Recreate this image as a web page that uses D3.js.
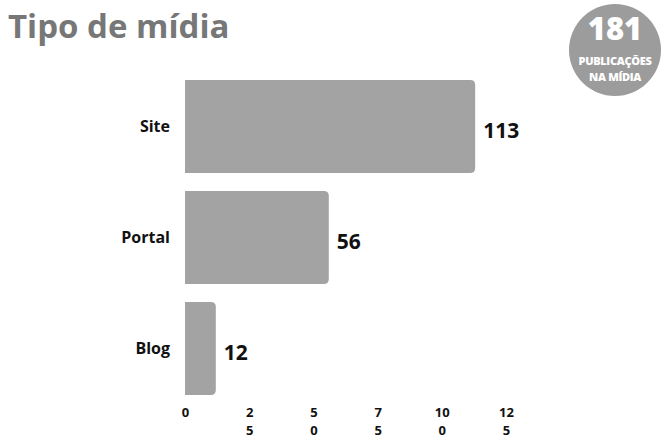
<!DOCTYPE html>
<html>
<head>
<meta charset="utf-8">
<script src="https://cdn.jsdelivr.net/npm/d3@7"></script>
<style>
  html, body { margin: 0; padding: 0; background: #fff; }
  svg { display: block; font-family: "Open Sans", "DejaVu Sans", sans-serif; }
</style>
</head>
<body>
<svg id="chart" width="662" height="441"></svg>
<script>
// Publications by media type
const categories = ["Site", "Portal", "Blog"];
const counts = [113, 56, 12];
const tickValues = [0, 25, 50, 75, 100, 125];
const totalCount = 181;
const badgeLines = ["PUBLICAÇÕES", "NA MÍDIA"];
const titleText = "Tipo de mídia";

const svg = d3.select("#chart");

const barColor = "#a3a3a3";
const titleColor = "#777";
const badgeColor = "#9c9c9c";

const x = d3.scaleLinear().domain([0, 125]).range([185, 506]);
const y = d3.scaleBand().domain(categories).range([71, 404])
  .paddingInner(0.16).paddingOuter(0.08);

// Title
svg.append("text")
  .attr("x", 8).attr("y", 38)
  .attr("font-size", 33).attr("font-weight", 700)
  .attr("fill", titleColor)
  .text(titleText);

// Total badge
const badge = svg.append("g").attr("transform", "translate(615,50)");
badge.append("circle").attr("r", 46).attr("fill", badgeColor);
badge.append("text")
  .attr("y", -10).attr("text-anchor", "middle")
  .attr("font-size", 31).attr("font-weight", 800).attr("fill", "#fff")
  .text(totalCount);
badge.selectAll("text.sub").data(badgeLines).join("text")
  .attr("class", "sub")
  .attr("y", (d, i) => 15 + i * 16)
  .attr("text-anchor", "middle")
  .attr("font-size", 11).attr("font-weight", 800).attr("fill", "#fff")
  .attr("letter-spacing", -0.3)
  .text(d => d);

// Bars: square on the baseline, rounded at the tip
const r = 5;
function barPath(x0, x1, y0, h) {
  const rr = Math.min(r, (x1 - x0) / 2, h / 2);
  return `M${x0},${y0}H${x1 - rr}Q${x1},${y0} ${x1},${y0 + rr}` +
         `V${y0 + h - rr}Q${x1},${y0 + h} ${x1 - rr},${y0 + h}H${x0}Z`;
}

const data = categories.map((c, i) => ({ cat: c, v: counts[i] }));

svg.append("g").selectAll("path").data(data).join("path")
  .attr("d", d => barPath(x(0), x(d.v), y(d.cat), y.bandwidth()))
  .attr("fill", barColor);

// Category labels
svg.append("g").selectAll("text").data(data).join("text")
  .attr("x", 170)
  .attr("y", d => y(d.cat) + y.bandwidth() / 2)
  .attr("dy", "0.35em")
  .attr("text-anchor", "end")
  .attr("font-size", 16).attr("font-weight", 700).attr("fill", "#111")
  .text(d => d.cat);

// Value labels
svg.append("g").selectAll("text").data(data).join("text")
  .attr("x", d => x(d.v) + 8)
  .attr("y", d => y(d.cat) + y.bandwidth() / 2 + 4)
  .attr("dy", "0.35em")
  .attr("font-size", 21).attr("font-weight", 700).attr("fill", "#111")
  .text(d => d.v);

// X axis: labels only; the narrow tick slot pushes the last digit onto a second line
const axis = d3.axisBottom(x).tickValues(tickValues).tickSize(0).tickPadding(0);
const ax = svg.append("g").attr("transform", "translate(0,408)").call(axis);
ax.select(".domain").remove();
ax.selectAll(".tick text").each(function(d) {
  const s = String(d);
  const lines = s.length > 1 ? [s.slice(0, -1), s.slice(-1)] : [s];
  const t = d3.select(this)
    .attr("font-family", "'Open Sans', sans-serif")
    .attr("font-size", 13).attr("font-weight", 700).attr("fill", "#111")
    .attr("dy", null).attr("y", 0).text(null);
  lines.forEach((ln, i) => {
    t.append("tspan").attr("x", 0).attr("y", 9 + i * 18).text(ln);
  });
});
</script>
</body>
</html>
